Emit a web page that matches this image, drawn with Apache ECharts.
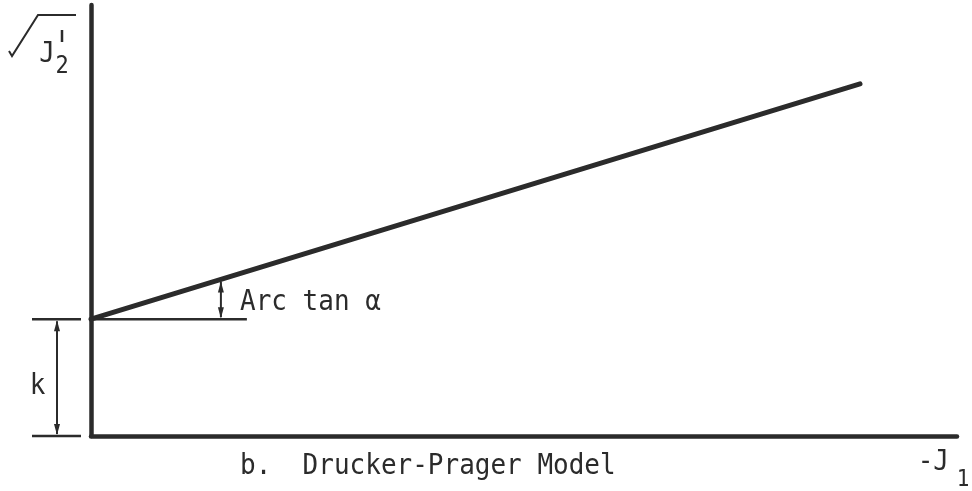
<!DOCTYPE html>
<html>
<head>
<meta charset="utf-8">
<script src="https://cdn.jsdelivr.net/npm/echarts@6/dist/echarts.min.js"></script>
<style>
  html, body { margin: 0; padding: 0; background: #ffffff; }
  #chart { width: 972px; height: 491px; }
</style>
</head>
<body>
<div id="chart"></div>
<script>
// Drucker-Prager failure envelope: sqrt(J2') against -J1
const negJ1 = [0, 88.8];          // first stress invariant (negated)
const sqrtJ2 = [27.1, 81.7];      // square root of second deviatoric invariant
const cohesionK = 27.1;           // intercept k on the sqrt(J2') axis
const slopeMarkAt = 15;           // -J1 where the slope angle is dimensioned
const xRange = [0, 100];
const yRange = [0, 100];
const slopeLabel = 'Arc tan α';
const interceptLabel = 'k';
const caption = 'b.  Drucker-Prager Model';
const yTitle = { base: 'J', sub: '2' };
const xTitle = { base: '-J', sub: '1' };

const INK = '#2b2b2b';
const MONO = '"DejaVu Sans Mono", "Liberation Mono", monospace';

const chart = echarts.init(document.getElementById('chart'), null, { renderer: 'canvas' });

chart.setOption({
  animation: false,
  backgroundColor: '#ffffff',
  grid: { left: 91, right: 15, top: 5, bottom: 55, containLabel: false },
  xAxis: {
    type: 'value', min: xRange[0], max: xRange[1],
    axisLine: { show: true, onZero: false, lineStyle: { color: INK, width: 4.5, cap: 'round' } },
    axisTick: { show: false }, axisLabel: { show: false }, splitLine: { show: false }
  },
  yAxis: {
    type: 'value', min: yRange[0], max: yRange[1],
    axisLine: { show: true, onZero: false, lineStyle: { color: INK, width: 4.5, cap: 'round' } },
    axisTick: { show: false }, axisLabel: { show: false }, splitLine: { show: false }
  },
  series: [{
    type: 'line',
    data: negJ1.map((x, i) => [x, sqrtJ2[i]]),
    symbol: 'none',
    lineStyle: { color: INK, width: 5, cap: 'round' }
  }]
});

function px(x, y) { return chart.convertToPixel({ gridIndex: 0 }, [x, y]); }

// Arrowhead pointing along direction dir (+1 down, -1 up) with tip at (x, y)
function arrowHead(x, y, dir) {
  const len = 11, half = 3;
  return {
    type: 'polygon',
    shape: { points: [[x, y], [x - half, y - dir * len], [x + half, y - dir * len]] },
    style: { fill: INK }
  };
}

function text(x, y, str, size, align, sy) {
  return {
    type: 'text', x: x, y: y, scaleY: sy || 1.12,
    style: {
      text: str, x: 0, y: 0, fill: INK,
      font: 'normal ' + size + 'px ' + MONO,
      align: align || 'left', verticalAlign: 'middle'
    }
  };
}

function drawAnnotations() {
  const origin = px(0, 0);
  const kPt = px(0, cohesionK);
  const slope = (sqrtJ2[1] - sqrtJ2[0]) / (negJ1[1] - negJ1[0]);
  const onLine = px(slopeMarkAt, sqrtJ2[0] + slope * (slopeMarkAt - negJ1[0]));
  const baseAtMark = px(slopeMarkAt, cohesionK);
  const refEnd = px(slopeMarkAt * 1.2, cohesionK);

  const dimX = 57;
  const els = [
    // intercept dimension
    { type: 'line', shape: { x1: 32, y1: kPt[1], x2: 81, y2: kPt[1] }, style: { stroke: INK, lineWidth: 2.5 } },
    { type: 'line', shape: { x1: 32, y1: origin[1], x2: 81, y2: origin[1] }, style: { stroke: INK, lineWidth: 2.5 } },
    { type: 'line', shape: { x1: dimX, y1: kPt[1] + 2, x2: dimX, y2: origin[1] - 2 }, style: { stroke: INK, lineWidth: 2 } },
    arrowHead(dimX, kPt[1] + 1, -1),
    arrowHead(dimX, origin[1] - 1, 1),
    text(37.5, 386, interceptLabel, 26, 'center'),

    // slope angle dimension
    { type: 'line', shape: { x1: kPt[0], y1: kPt[1], x2: refEnd[0], y2: kPt[1] }, style: { stroke: INK, lineWidth: 2.5 } },
    { type: 'line', shape: { x1: baseAtMark[0], y1: onLine[1] + 2, x2: baseAtMark[0], y2: baseAtMark[1] - 2 }, style: { stroke: INK, lineWidth: 2 } },
    arrowHead(baseAtMark[0], onLine[1] + 2, -1),
    arrowHead(baseAtMark[0], baseAtMark[1] - 1, 1),
    text(240, 302, slopeLabel, 26, 'left'),

    // caption
    text(240, 466, caption, 26, 'left'),

    // x-axis title: -J1
    text(949, 462, xTitle.base, 26, 'right'),
    text(963, 480, xTitle.sub, 21, 'center'),

    // y-axis title: sqrt(J2')
    { type: 'polyline', shape: { points: [[9, 51], [12, 56], [38, 15], [76, 15]] }, style: { stroke: INK, lineWidth: 2, fill: null } },
    text(47, 54, yTitle.base, 26, 'center'),
    text(62, 67, yTitle.sub, 22, 'center'),
    { type: 'line', shape: { x1: 62, y1: 30, x2: 62, y2: 42 }, style: { stroke: INK, lineWidth: 2.5 } }
  ];
  chart.setOption({ graphic: { elements: els } });
}

drawAnnotations();
</script>
</body>
</html>
